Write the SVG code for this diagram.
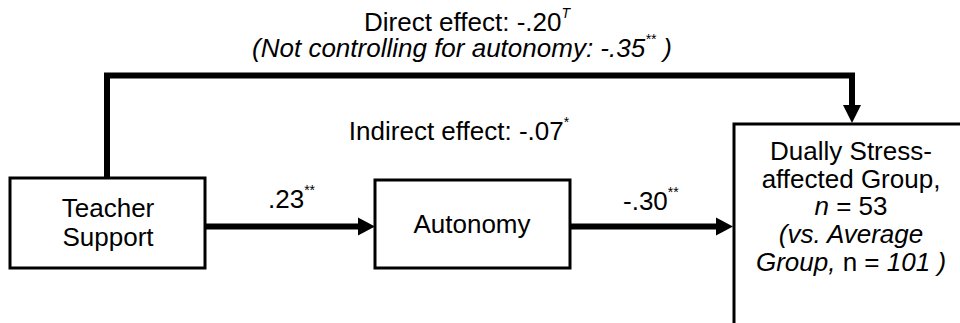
<svg xmlns="http://www.w3.org/2000/svg" width="960" height="323" viewBox="0 0 960 323">
<style>
text{font-family:"Liberation Sans",Arial,sans-serif;font-size:26px;fill:#000}
.i{font-style:italic}
.sup{font-size:14px}
.box{fill:#fff;stroke:#000;stroke-width:3}
.con{fill:none;stroke:#000;stroke-width:6}
.head{fill:#000}
</style>
<rect width="960" height="323" fill="#fff"/>
<g id="connectors">
<path class="con" d="M107,178 V75.5 H852 V106"/>
<polygon class="head" points="843,105 861,105 852,123"/>
<path class="con" d="M205,226.5 H360"/>
<polygon class="head" points="358,217.5 375,226.5 358,235.5"/>
<path class="con" d="M570,226.5 H718"/>
<polygon class="head" points="716,217.5 733,226.5 716,235.5"/>
</g>
<g id="teacher">
<rect class="box" x="10" y="178" width="195" height="90"/>
<text x="108" y="217" text-anchor="middle">Teacher</text>
<text x="108" y="246" text-anchor="middle">Support</text>
</g>
<g id="autonomy">
<rect class="box" x="375" y="180" width="195" height="88"/>
<text x="472" y="233" text-anchor="middle">Autonomy</text>
</g>
<g id="group">
<rect class="box" x="734" y="124" width="300" height="260"/>
<text x="851" y="160" text-anchor="middle">Dually Stress-</text>
<text x="851" y="188" text-anchor="middle">affected Group,</text>
<text x="851" y="215" text-anchor="middle"><tspan class="i">n</tspan> = 53</text>
<text x="851" y="243" text-anchor="middle" class="i">(vs. Average</text>
<text x="851" y="271" text-anchor="middle"><tspan class="i">Group,</tspan> n = <tspan class="i">101 )</tspan></text>
</g>
<g id="labels">
<text x="467" y="31" text-anchor="middle">Direct effect: -.20<tspan class="sup i" dy="-13">T</tspan></text>
<text x="462" y="57" text-anchor="middle" class="i">(Not controlling for autonomy: -.35<tspan class="sup" dy="-13">**</tspan><tspan dy="13"> )</tspan></text>
<text x="459" y="140" text-anchor="middle">Indirect effect: -.07<tspan class="sup" dy="-13">*</tspan></text>
<text x="268" y="208">.23<tspan class="sup" dy="-13">**</tspan></text>
<text x="623" y="210">-.30<tspan class="sup" dy="-13">**</tspan></text>
</g>
</svg>
